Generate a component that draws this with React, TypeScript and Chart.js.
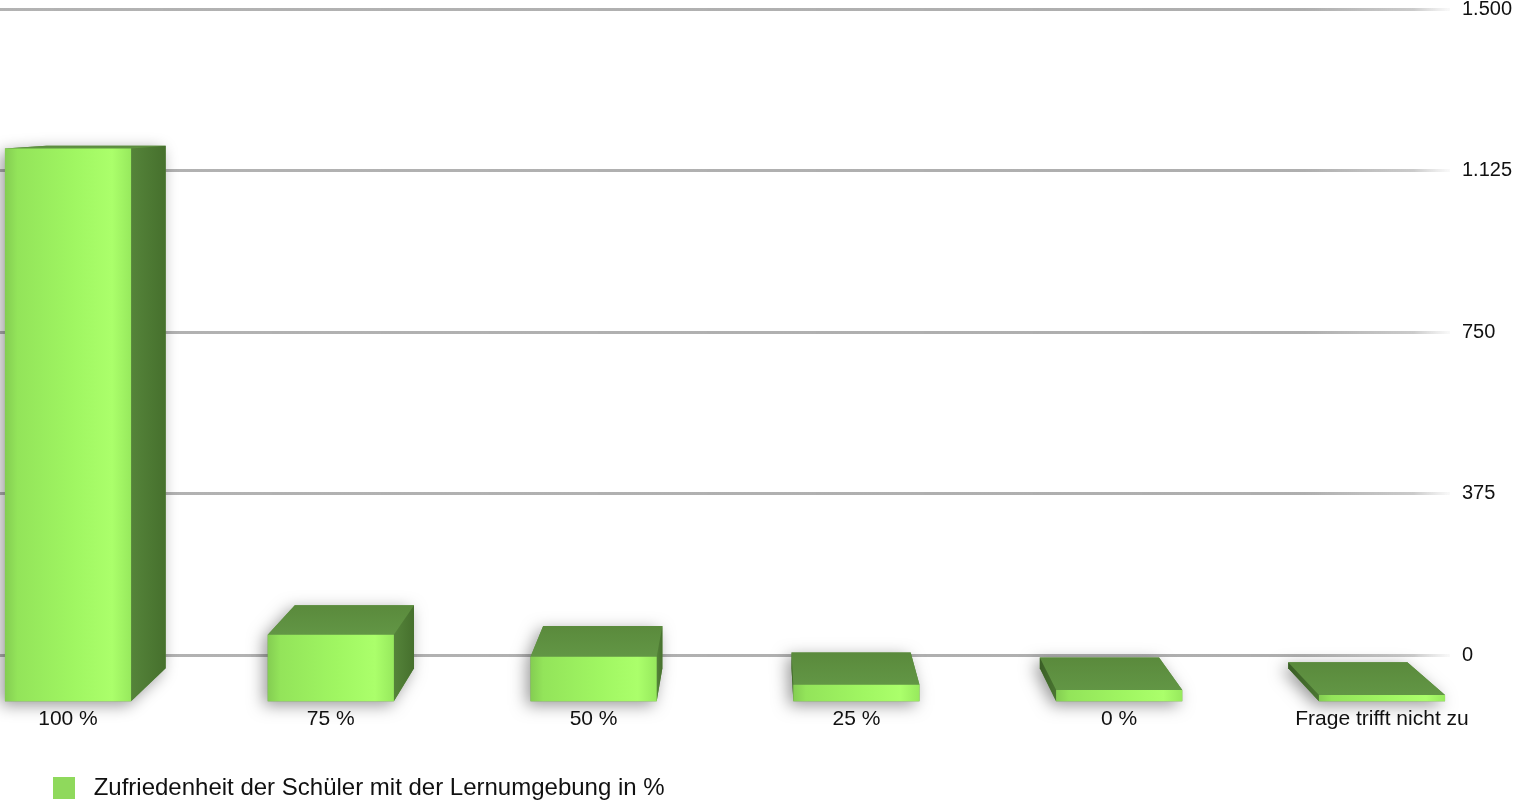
import React, { useEffect, useRef } from 'react';
import { Chart, registerables } from 'chart.js';

Chart.register(...registerables);

// ---- data ----
const categories = ['100 %', '75 %', '50 %', '25 %', '0 %', 'Frage trifft nicht zu'];
const seriesName = 'Zufriedenheit der Schüler mit der Lernumgebung in %';
const values = [1185, 146, 99, 39, 28, 17];
const yMin = 0;
const yMax = 1500;
const yStep = 375;

// ---- 3D look (style only) ----
const VANISH = { x: 760, y: 100 };
const BAR_DEPTH = 0.055;
const WALL_DEPTH = 0.0796;
const LEGEND_SHIFT = 43;

const FONT = "'Liberation Sans', Arial, Helvetica, sans-serif";

function formatDe(v: number): string {
  return String(v).replace(/\B(?=(\d{3})+(?!\d))/g, '.');
}

type P = { x: number; y: number };

const legendShiftPlugin = {
  id: 'legendShift',
  afterLayout(chart: any) {
    const lg = chart.legend;
    if (lg) {
      lg.left += LEGEND_SHIFT;
      lg.right += LEGEND_SHIFT;
    }
  },
};

const prismPlugin = {
  id: 'prism3d',
  beforeDatasetDraw(chart: any, args: any) {
    const ctx: CanvasRenderingContext2D = chart.ctx;
    const meta = args.meta;
    const toFront = (py: number) => VANISH.y + (py - VANISH.y) / (1 - WALL_DEPTH);
    const back = (p: P): P => ({
      x: p.x + (VANISH.x - p.x) * BAR_DEPTH,
      y: p.y + (VANISH.y - p.y) * BAR_DEPTH,
    });
    const poly = (pts: P[], fill: string | CanvasGradient) => {
      ctx.beginPath();
      ctx.moveTo(pts[0].x, pts[0].y);
      for (let i = 1; i < pts.length; i++) ctx.lineTo(pts[i].x, pts[i].y);
      ctx.closePath();
      ctx.fillStyle = fill;
      ctx.fill();
    };
    meta.data.forEach((el: any) => {
      const { x, y, base, width } = el.getProps(['x', 'y', 'base', 'width'], true);
      const l = x - width / 2;
      const r = x + width / 2;
      const t = toFront(y);
      const b = toFront(base);
      const flt = { x: l, y: t };
      const frt = { x: r, y: t };
      const flb = { x: l, y: b };
      const frb = { x: r, y: b };
      const blt = back(flt);
      const brt = back(frt);
      const blb = back(flb);
      const brb = back(frb);
      const rightVisible = r < VANISH.x;
      const leftVisible = l > VANISH.x;

      // soft shadow of the whole prism
      ctx.save();
      ctx.shadowColor = 'rgba(0,0,0,0.4)';
      ctx.shadowBlur = 16;
      ctx.shadowOffsetX = -4;
      ctx.shadowOffsetY = 4;
      const outline = rightVisible
        ? [blt, brt, brb, frb, flb, flt]
        : leftVisible
        ? [blt, brt, frt, frb, flb, blb]
        : [blt, brt, frt, frb, flb, flt];
      poly(outline, '#5e9040');
      ctx.restore();

      // top face
      if (t > VANISH.y) {
        const gt = ctx.createLinearGradient(0, blt.y, 0, flt.y);
        gt.addColorStop(0, '#5a8a3c');
        gt.addColorStop(1, '#629645');
        poly([flt, frt, brt, blt], gt);
      }
      // side faces
      if (rightVisible) {
        const gs = ctx.createLinearGradient(r, 0, brt.x, 0);
        gs.addColorStop(0, '#55843a');
        gs.addColorStop(1, '#46702d');
        poly([frt, frb, brb, brt], gs);
      }
      if (leftVisible) {
        const gs = ctx.createLinearGradient(blt.x, 0, l, 0);
        gs.addColorStop(0, '#3a5e26');
        gs.addColorStop(1, '#4a7531');
        poly([flt, flb, blb, blt], gs);
      }
      // front face
      const gf = ctx.createLinearGradient(l, 0, r, 0);
      gf.addColorStop(0, '#84cd52');
      gf.addColorStop(0.1, '#93e45a');
      gf.addColorStop(0.55, '#a0f662');
      gf.addColorStop(0.85, '#abff6b');
      gf.addColorStop(1, '#97e95d');
      poly([flt, frt, frb, flb], gf);
    });
    return false;
  },
};

export default function App() {
  const canvasRef = useRef<HTMLCanvasElement | null>(null);

  useEffect(() => {
    if (!canvasRef.current) return;
    Chart.defaults.font.family = FONT;
    const chart = new Chart(canvasRef.current, {
      type: 'bar',
      data: {
        datasets: [
          {
            label: seriesName,
            data: values.map((v, i) => ({ x: i, y: v })),
            backgroundColor: '#8fd95c',
            borderWidth: 0,
            barPercentage: 0.6,
            categoryPercentage: 0.8,
          },
        ],
      },
      options: {
        animation: false,
        responsive: true,
        maintainAspectRatio: false,
        layout: { padding: { top: 9, left: 0, right: 0, bottom: 0 } },
        events: [],
        scales: {
          x: {
            type: 'linear',
            offset: false,
            min: -0.2588,
            max: 5.2588,
            grid: { display: false, offset: false },
            border: { display: false },
            afterBuildTicks: (scale: any) => {
              scale.ticks = categories.map((_, i) => ({ value: i }));
            },
            afterFit: (scale: any) => {
              scale.height = 111;
              scale.paddingLeft = 0;
              scale.paddingRight = 0;
            },
            ticks: {
              autoSkip: false,
              maxRotation: 0,
              padding: 44,
              color: '#111',
              font: { size: 21, family: FONT },
              callback: (v: any) => categories[Math.round(Number(v))] ?? '',
            },
          },
          y: {
            position: 'right',
            min: yMin,
            max: yMax,
            border: { display: false },
            grid: {
              drawTicks: false,
              lineWidth: 3,
              color: (c: any) => {
                const ch = c.chart;
                const area = ch.chartArea;
                if (!area) return '#b8b8b8';
                const g = ch.ctx.createLinearGradient(area.left, 0, area.right, 0);
                g.addColorStop(0, 'rgba(170,170,170,0.9)');
                g.addColorStop(0.9, 'rgba(170,170,170,0.95)');
                g.addColorStop(0.975, 'rgba(185,185,185,0.75)');
                g.addColorStop(1, 'rgba(200,200,200,0.1)');
                return g;
              },
            },
            afterFit: (scale: any) => {
              scale.width = 79;
              scale.paddingTop = 0;
              scale.paddingBottom = 0;
            },
            ticks: {
              stepSize: yStep,
              padding: 12,
              color: '#111',
              font: { size: 20, family: FONT },
              callback: (v: any) => formatDe(Number(v)),
            },
          },
        },
        plugins: {
          tooltip: { enabled: false },
          legend: {
            position: 'bottom',
            align: 'start',
            labels: {
              boxWidth: 22,
              boxHeight: 22,
              padding: 10,
              color: '#111',
              font: { size: 24, family: FONT },
              generateLabels: (ch: any) =>
                Chart.defaults.plugins.legend.labels
                  .generateLabels(ch)
                  .map((it: any) => ({ ...it, text: ' ' + it.text, lineWidth: 0 })),
            },
          },
        },
      },
      plugins: [prismPlugin, legendShiftPlugin],
    } as any);
    return () => chart.destroy();
  }, []);

  return (
    <div
      style={{
        position: 'fixed',
        left: 0,
        top: 0,
        width: 1529,
        height: 810,
        background: '#fff',
      }}
    >
      <canvas ref={canvasRef} />
    </div>
  );
}
